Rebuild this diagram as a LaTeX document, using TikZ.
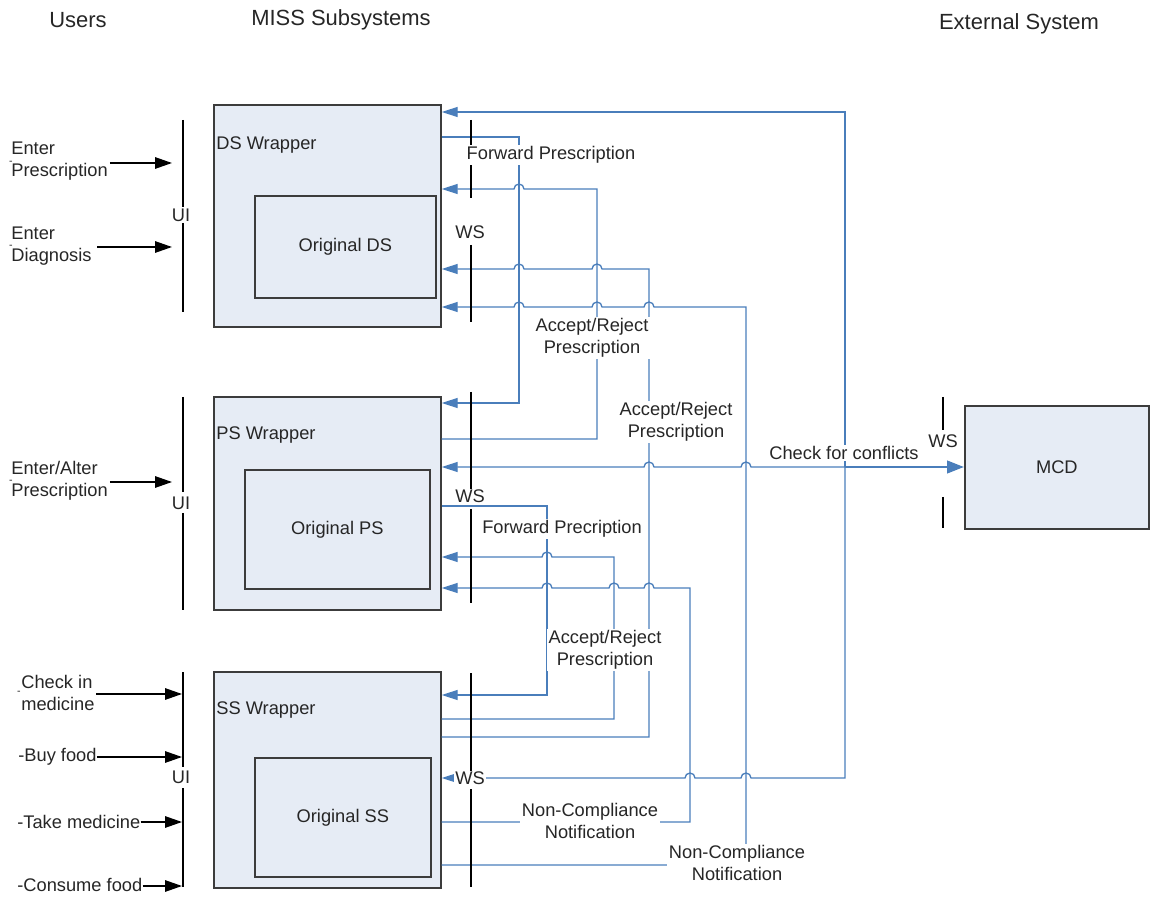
\documentclass[tikz,border=0pt]{standalone}
\usepackage{fontspec}
\setmainfont{Liberation Sans}
\usetikzlibrary{arrows.meta}
\definecolor{lnblue}{HTML}{4A7EBB}
\definecolor{boxfill}{HTML}{E6ECF5}
\definecolor{boxline}{HTML}{3C3C3C}
\definecolor{txt}{HTML}{262626}
\begin{document}
\begin{tikzpicture}[x=0.02cm,y=-0.02cm,
  font=\fontsize{10.4}{12.5}\selectfont, text=txt,
  wrapbox/.style={draw=boxline, line width=1pt, fill=boxfill, anchor=north west, inner sep=0pt},
  conn/.style={draw=lnblue, line width=0.75pt, -{Triangle[length=3.2mm,width=2mm]}},
  thickconn/.style={draw=lnblue, line width=1.5pt, -{Triangle[length=3.4mm,width=2.5mm]}},
  userarrow/.style={draw=black, line width=0.8pt, -{Triangle[length=3.4mm,width=2.3mm]}},
  bar/.style={draw=black, line width=1pt},
  lbl/.style={fill=white, inner sep=1pt, align=center},
  utext/.style={anchor=west, align=left, inner sep=0pt},
  dashmark/.style={inner sep=0pt, font=\fontsize{6}{6}\selectfont},
  hdr/.style={font=\fontsize{12.5}{15}\selectfont}]
\useasboundingbox (0,0) rectangle (1150,898);

% headers
\node[hdr] (hUsers) at (78,20) {Users};
\node[hdr] (hMiss) at (341,20) {MISS Subsystems};
\node[hdr] (hExt) at (1019,24) {External System};

% boxes
\node[wrapbox, minimum width=4.54cm, minimum height=4.44cm] (ds) at (213,104) {};
\node[wrapbox, minimum width=3.62cm, minimum height=2.04cm] (ods) at (254,195) {};
\node (odsl) at (ods.center) {Original DS};
\node[anchor=west, inner sep=0pt] (dsl) at (216,145) {DS Wrapper};

\node[wrapbox, minimum width=4.54cm, minimum height=4.26cm] (ps) at (213,396) {};
\node[wrapbox, minimum width=3.70cm, minimum height=2.38cm] (ops) at (244,469) {};
\node (opsl) at (ops.center) {Original PS};
\node[anchor=west, inner sep=0pt] (psl) at (216,435) {PS Wrapper};

\node[wrapbox, minimum width=4.54cm, minimum height=4.32cm] (ss) at (213,671) {};
\node[wrapbox, minimum width=3.52cm, minimum height=2.38cm] (oss) at (254,757) {};
\node (ossl) at (oss.center) {Original SS};
\node[anchor=west, inner sep=0pt] (ssl) at (216,710) {SS Wrapper};

\node[wrapbox, minimum width=3.68cm, minimum height=2.46cm] (mcd) at (964,405) {};
\node (mcdl) at (mcd.center) {MCD};

% user inputs
\node[utext] (u1) at (11,161) {Enter\\Prescription};
\node[dashmark] (u1d) at (11,163) {-};
\coordinate (u1t) at (172,163);
\draw[userarrow] ([xshift=1pt]u1.east |- u1t) -- (u1t);

\node[utext] (u2) at (11,246) {Enter\\Diagnosis};
\node[dashmark] (u2d) at (11,247) {-};
\coordinate (u2t) at (172,247);
\draw[userarrow] ([xshift=3pt]u2.east |- u2t) -- (u2t);

\node[utext] (u3) at (11,481) {Enter/Alter\\Prescription};
\node[dashmark] (u3d) at (11,482) {-};
\coordinate (u3t) at (172,482);
\draw[userarrow] ([xshift=1pt]u3.east |- u3t) -- (u3t);

\node[utext] (u4) at (21,693) {Check in\\medicine};
\node[dashmark] (u4d) at (19,693) {-};
\coordinate (u4t) at (182,694);
\draw[userarrow] (96,694) -- (u4t);

\node[utext] (u5) at (18,757) {-Buy food};
\coordinate (u5t) at (182,757);
\draw[userarrow] (u5.east |- u5t) -- (u5t);

\node[utext] (u6) at (17,822) {-Take medicine};
\coordinate (u6t) at (182,822);
\draw[userarrow] (u6.east |- u6t) -- (u6t);

\node[utext] (u7) at (17,885) {-Consume food};
\coordinate (u7t) at (182,886);
\draw[userarrow] (u7.east |- u7t) -- (u7t);

% connectors
\coordinate (jn) at (845,467);
% MCD returns
\draw[conn] (jn) -- (845,112) -- (ds.east |- 0,112);
\draw[conn] (jn) -- (751,467) arc[start angle=0,end angle=180,radius=1mm]
  -- (654,467) arc[start angle=0,end angle=180,radius=1mm] -- (ps.east |- 0,467);
\draw[conn] (jn) -- (845,778) -- (751,778) arc[start angle=0,end angle=180,radius=1mm]
  -- (695,778) arc[start angle=0,end angle=180,radius=1mm] -- (ss.east |- 0,778);
\draw[thickconn] (jn) -- (mcd.west |- jn);

% DS -> PS forward
\draw[conn] (ds.east |- 0,137) -- (519,137) -- (519,403) -- (ps.east |- 0,403);
% PS -> DS accept/reject
\draw[conn] (ps.east |- 0,439) -- (597,439) -- (597,189) -- (524,189)
  arc[start angle=0,end angle=180,radius=1mm] -- (ds.east |- 0,189);
% SS -> DS accept/reject
\draw[conn] (ss.east |- 0,737) -- (649,737) -- (649,269) -- (602,269)
  arc[start angle=0,end angle=180,radius=1mm] -- (524,269)
  arc[start angle=0,end angle=180,radius=1mm] -- (ds.east |- 0,269);
% SS -> DS non-compliance
\draw[conn] (ss.east |- 0,865) -- (746,865) -- (746,307) -- (654,307)
  arc[start angle=0,end angle=180,radius=1mm] -- (602,307)
  arc[start angle=0,end angle=180,radius=1mm] -- (524,307)
  arc[start angle=0,end angle=180,radius=1mm] -- (ds.east |- 0,307);
% PS -> SS forward
\draw[conn] (ps.east |- 0,506) -- (547,506) -- (547,695) -- (ss.east |- 0,695);
% SS -> PS accept/reject
\draw[conn] (ss.east |- 0,719) -- (614,719) -- (614,557) -- (552,557)
  arc[start angle=0,end angle=180,radius=1mm] -- (ps.east |- 0,557);
% SS -> PS non-compliance
\draw[conn] (ss.east |- 0,822) -- (690,822) -- (690,588) -- (654,588)
  arc[start angle=0,end angle=180,radius=1mm] -- (619,588)
  arc[start angle=0,end angle=180,radius=1mm] -- (552,588)
  arc[start angle=0,end angle=180,radius=1mm] -- (ps.east |- 0,588);

% UI bars
\draw[bar] (183,120) -- (183,207) (183,223) -- (183,312);
\draw[bar] (183,397) -- (183,492) (183,513) -- (183,610);
\draw[bar] (183,672) -- (183,767) (183,788) -- (183,887);
\node[inner sep=0pt] (ui1) at (181,215) {UI};
\node[inner sep=0pt] (ui2) at (181,503) {UI};
\node[inner sep=0pt] (ui3) at (181,777) {UI};

% WS bars
\draw[bar] (471,120) -- (471,198) (471,245) -- (471,322);
\draw[bar] (471,392) -- (471,489) (471,509) -- (471,603);
\draw[bar] (471,673) -- (471,771) (471,789) -- (471,887);
\draw[bar] (943,397) -- (943,430) (943,497) -- (943,528);
\node[inner sep=0pt] (ws1) at (470,232) {WS};
\node[inner sep=0pt] (ws2) at (470,496) {WS};
\node[lbl, inner sep=0.5pt] (ws3) at (470,778) {WS};
\node[inner sep=0pt] (ws4) at (943,441) {WS};

% connector labels
\node[lbl] (l1) at (551,155) {Forward Prescription};
\node[lbl] (l2) at (592,338) {Accept/Reject\\Prescription};
\node[lbl] (l3) at (676,422) {Accept/Reject\\Prescription};
\node[lbl] (l4) at (844,453) {Check for conflicts};
\node[lbl] (l5) at (562,529) {Forward Precription};
\node[lbl] (l6) at (605,650) {Accept/Reject\\Prescription};
\node[lbl] (l7) at (590,821) {Non-Compliance\\Notification};
\node[lbl] (l8) at (737,863) {Non-Compliance\\Notification};
\end{tikzpicture}
\end{document}
